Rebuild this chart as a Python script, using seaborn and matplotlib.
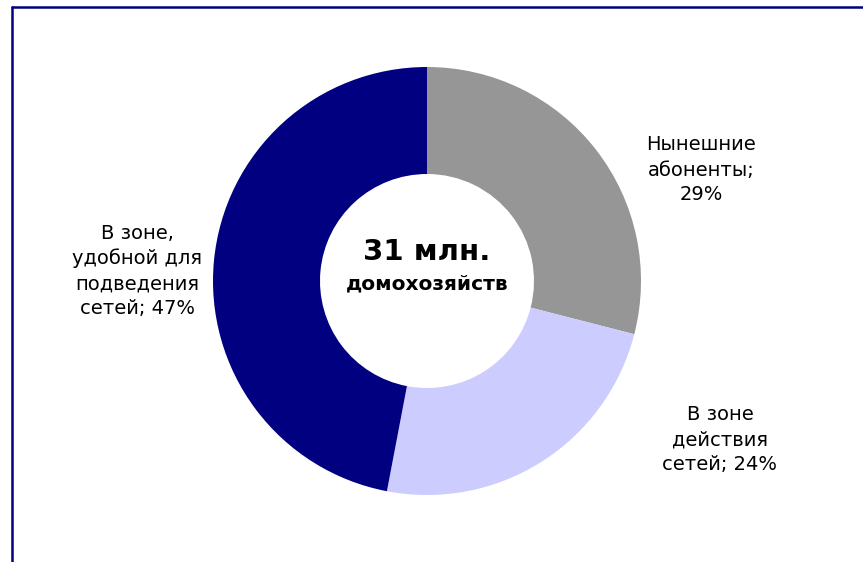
import matplotlib
matplotlib.use("Agg")
import matplotlib.pyplot as plt
import seaborn as sns
from matplotlib.lines import Line2D

categories = ["Нынешние\nабоненты;\n29%", "В зоне\nдействия\nсетей; 24%", "В зоне,\nудобной для\nподведения\nсетей; 47%"]
shares = [29, 24, 47]
colors = ["#969696", "#CCCCFF", "#000080"]
center_title = "31 млн."
center_sub = "домохозяйств"

sns.set_theme(style="white")
plt.rcParams['font.family'] = ['DejaVu Sans']

W, H = 863, 562
fig = plt.figure(figsize=(W / 100, H / 100), dpi=100)
ax = fig.add_axes([0, 0, 1, 1])

cx, cy, R = 427, H - 281, 214
ax.pie(shares, colors=colors, startangle=90, counterclock=False,
       center=(cx, cy), radius=R, wedgeprops=dict(width=R * 0.5, linewidth=0), frame=True)
ax.set_xlim(0, W)
ax.set_ylim(0, H)
ax.set_aspect("equal")
ax.axis("off")

label_pos = [(701, H - 170), (720, H - 440), (137, H - 271)]
for lab, (x, y) in zip(categories, label_pos):
    ax.text(x, y, lab, ha="center", va="center", fontsize=14, color="black", linespacing=1.4)

ax.text(cx, H - 252, center_title, ha="center", va="center", fontsize=21, fontweight="bold", color="black")
ax.text(cx, H - 284, center_sub, ha="center", va="center", fontsize=14.5, fontweight="bold", color="black")

# frame border (left and top edges visible)
fig.add_artist(Line2D([11.5 / W, 11.5 / W], [0, 1 - 6.5 / H], transform=fig.transFigure, color="#000080", lw=1.8))
fig.add_artist(Line2D([11.5 / W, 1], [1 - 6.5 / H, 1 - 6.5 / H], transform=fig.transFigure, color="#000080", lw=1.8))

fig.savefig("out.png", dpi=100, facecolor="white")
